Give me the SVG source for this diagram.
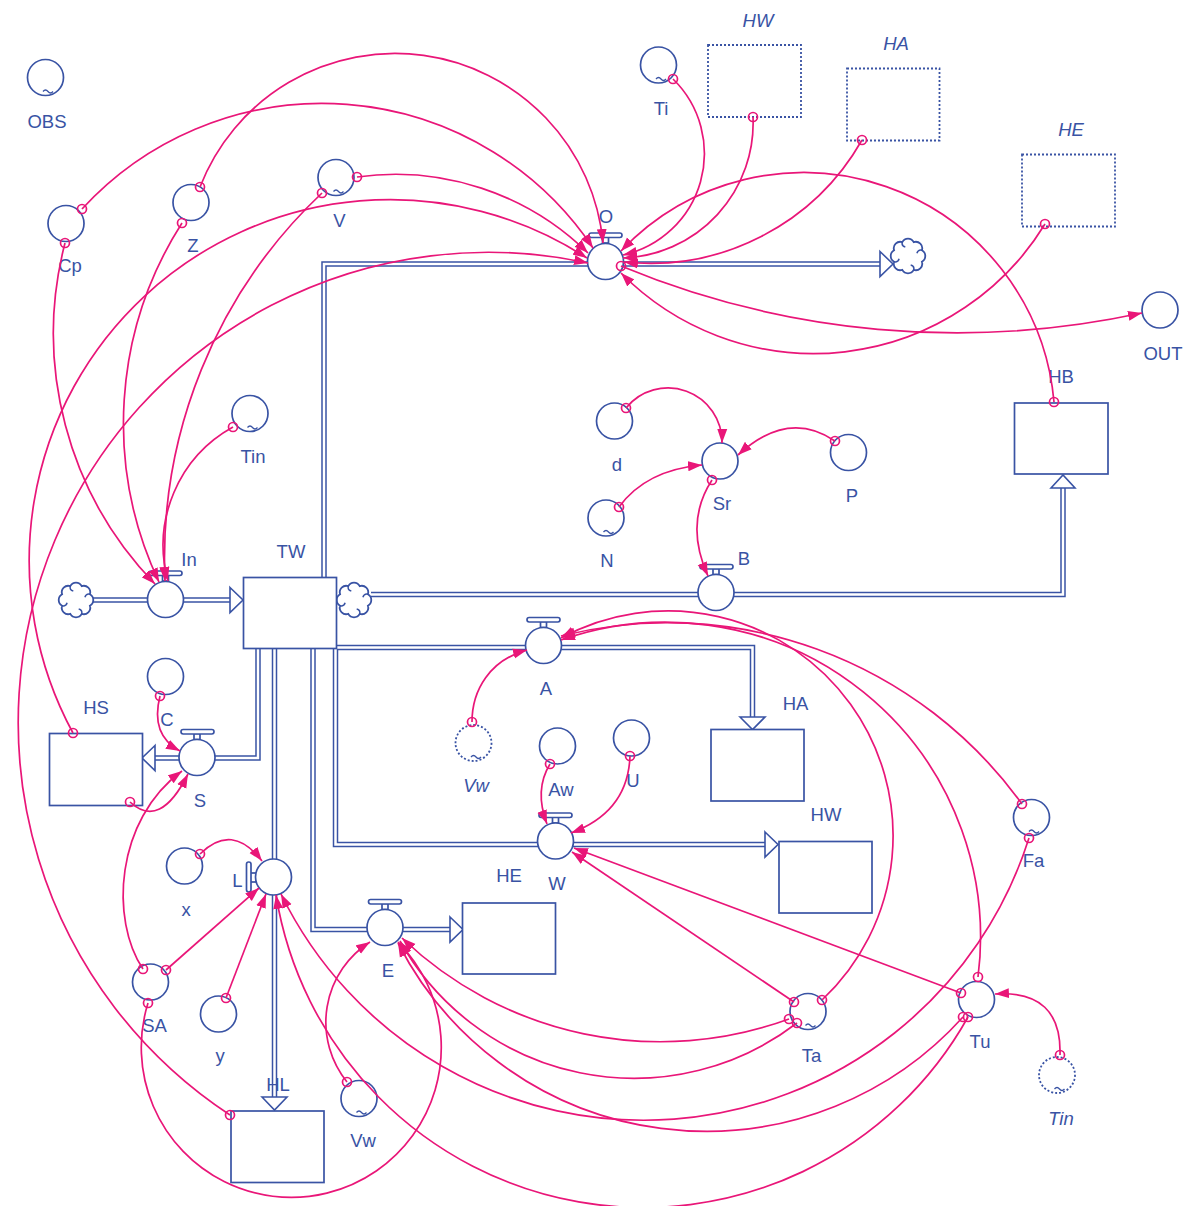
<svg xmlns="http://www.w3.org/2000/svg" width="1189" height="1206" viewBox="0 0 1189 1206">
<style>
.p{fill:none;stroke:#3953a4;stroke-width:5.5;stroke-linejoin:miter}
.pi{fill:none;stroke:#fff;stroke-width:2.5;stroke-linejoin:miter}
.ar{fill:#fff;stroke:#3953a4;stroke-width:1.6;stroke-linejoin:miter}
.n{fill:#fff;stroke:#3953a4;stroke-width:1.7}
.g{fill:none;stroke:#3953a4;stroke-width:1.8;stroke-dasharray:2 2}
.t{font-family:"Liberation Sans",Arial,sans-serif;font-size:18.5px;fill:#3953a4;text-anchor:middle}
.i{font-style:italic}
.c{fill:none;stroke:#e91678;stroke-width:1.7;marker-end:url(#ah)}
.m{fill:none;stroke:#e91678;stroke-width:1.7}
.tl{fill:none;stroke:#3953a4;stroke-width:1.3}
.cl{fill:#fff;stroke:#3953a4;stroke-width:1.8}
.cc{fill:none;stroke:#3953a4;stroke-width:1.5}
</style>
<defs>
<marker id="ah" markerUnits="userSpaceOnUse" markerWidth="15" markerHeight="11" refX="14" refY="5.5" orient="auto" viewBox="0 0 15 11"><path d="M0,0.5 L14,5.5 L0,10.5 z" fill="#e91678"/></marker>
<g id="cloud"><path class="cl" d="M13.9,-5.7 A6.5,6.5 0 0 1 13.9,5.7 A6.5,6.5 0 0 1 5.7,13.9 A6.5,6.5 0 0 1 -5.7,13.9 A6.5,6.5 0 0 1 -13.9,5.7 A6.5,6.5 0 0 1 -13.9,-5.7 A6.5,6.5 0 0 1 -5.7,-13.9 A6.5,6.5 0 0 1 5.7,-13.9 A6.5,6.5 0 0 1 13.9,-5.7 Z"/><path class="cc" d="M13.9,-5.7 q-4,-1 -5,3 M5.7,13.9 q1,-4 -3,-5 M-13.9,5.7 q4,1 5,-3 M-5.7,-13.9 q-1,4 3,5"/></g>
</defs>

<!-- flows -->
<g id="flow-O">
<path class="p" d="M324,578 V264 H880"/><path class="pi" d="M324,578 V264 H880"/>
<path class="ar" d="M880,251.5 L893,264 L880,276.5 Z"/>
<rect class="n" x="602.5" y="237" width="6" height="6"/><rect class="n" x="589" y="233" width="33" height="4.5" rx="2.2"/>
<circle class="n" cx="605.5" cy="261.5" r="18"/>
<text class="t" x="606" y="223">O</text>
</g>
<g id="flow-In">
<path class="p" d="M93,600 H230"/><path class="pi" d="M93,600 H230"/>
<path class="ar" d="M230,587.5 L243,600 L230,612.5 Z"/>
<rect class="n" x="162.5" y="575" width="6" height="6"/><rect class="n" x="149" y="571" width="33" height="4.5" rx="2.2"/>
<circle class="n" cx="165.5" cy="599.5" r="18"/>
<text class="t" x="189" y="566">In</text>
</g>
<g id="flow-B">
<path class="p" d="M371,594.5 H1063 V488"/><path class="pi" d="M371,594.5 H1063 V488"/>
<path class="ar" d="M1051,488 L1063,475 L1075,488 Z"/>
<rect class="n" x="713" y="568.5" width="6" height="6"/><rect class="n" x="700" y="564.5" width="33" height="4.5" rx="2.2"/>
<circle class="n" cx="716" cy="592.5" r="18"/>
<text class="t" x="744" y="565">B</text>
</g>
<g id="flow-A">
<path class="p" d="M336,647.5 H752.5 V717"/><path class="pi" d="M336,647.5 H752.5 V717"/>
<path class="ar" d="M740,717 L752.5,729.5 L765,717 Z"/>
<rect class="n" x="540.5" y="621.5" width="6" height="6"/><rect class="n" x="527" y="617.5" width="33" height="4.5" rx="2.2"/>
<circle class="n" cx="543.5" cy="645.5" r="18"/>
<text class="t" x="546" y="695">A</text>
</g>
<g id="flow-W">
<path class="p" d="M335.5,649 V844.5 H765"/><path class="pi" d="M335.5,649 V844.5 H765"/>
<path class="ar" d="M765,832 L778,844.5 L765,857 Z"/>
<rect class="n" x="552.5" y="817" width="6" height="6"/><rect class="n" x="539" y="813" width="33" height="4.5" rx="2.2"/>
<circle class="n" cx="555.5" cy="841" r="18"/>
<text class="t" x="557" y="890">W</text>
</g>
<g id="flow-E">
<path class="p" d="M313,649 V929.5 H450"/><path class="pi" d="M313,649 V929.5 H450"/>
<path class="ar" d="M450,917 L463,929.5 L450,942 Z"/>
<rect class="n" x="382" y="903.5" width="6" height="6"/><rect class="n" x="368.5" y="899.5" width="33" height="4.5" rx="2.2"/>
<circle class="n" cx="385" cy="927.5" r="18"/>
<text class="t" x="388" y="977">E</text>
</g>
<g id="flow-L">
<path class="p" d="M274.5,649 V1097"/><path class="pi" d="M274.5,649 V1097"/>
<path class="ar" d="M262,1097 L274.5,1110 L287,1097 Z"/>
<rect class="n" x="250" y="873" width="6" height="9"/><rect class="n" x="246.5" y="862" width="4.5" height="30" rx="2.2"/>
<circle class="n" cx="273.5" cy="877" r="18"/>
<text class="t" x="237.5" y="887">L</text>
</g>
<g id="flow-S">
<path class="p" d="M258,649 V758 H155"/><path class="pi" d="M258,649 V758 H155"/>
<path class="ar" d="M155,745.5 L142,758 L155,770.5 Z"/>
<rect class="n" x="194" y="733.5" width="6" height="6"/><rect class="n" x="181" y="729.5" width="33" height="4.5" rx="2.2"/>
<circle class="n" cx="197" cy="757.5" r="18"/>
<text class="t" x="200" y="807">S</text>
</g>

<!-- clouds -->
<g id="cloud-in"><use href="#cloud" x="76" y="600"/></g>
<g id="cloud-b"><use href="#cloud" x="354" y="600"/></g>
<g id="cloud-o"><use href="#cloud" x="908" y="256"/></g>

<!-- stocks -->
<g id="TW"><rect class="n" x="243.5" y="577.5" width="93" height="71"/><text class="t" x="291" y="558">TW</text></g>
<g id="HB"><rect class="n" x="1014.5" y="403" width="93.5" height="71"/><text class="t" x="1061" y="383">HB</text></g>
<g id="HA"><rect class="n" x="711" y="729.5" width="93" height="71.5"/><text class="t" x="795.5" y="710">HA</text></g>
<g id="HW"><rect class="n" x="779" y="841.5" width="93" height="71.5"/><text class="t" x="826" y="821">HW</text></g>
<g id="HE"><rect class="n" x="462.5" y="903" width="93" height="71"/><text class="t" x="509" y="882">HE</text></g>
<g id="HS"><rect class="n" x="49.5" y="733.5" width="93" height="72"/><text class="t" x="96" y="714">HS</text></g>
<g id="HL"><rect class="n" x="231" y="1111" width="93" height="71.5"/><text class="t" x="278" y="1091">HL</text></g>
<g id="HW-ghost"><rect class="g" x="708" y="45" width="93" height="72"/><text class="t i" x="758" y="27">HW</text></g>
<g id="HA-ghost"><rect class="g" x="847" y="68.5" width="92.5" height="72"/><text class="t i" x="896" y="50">HA</text></g>
<g id="HE-ghost"><rect class="g" x="1022" y="154.5" width="93" height="72"/><text class="t i" x="1071" y="136">HE</text></g>

<!-- converters -->
<g id="OBS"><circle class="n" cx="45.5" cy="77.5" r="18"/><path class="tl" d="M43,91.5 q2.5,-3 5,0 t5,0"/><text class="t" x="47" y="128">OBS</text></g>
<g id="Cp"><circle class="n" cx="66" cy="223.5" r="18"/><text class="t" x="70" y="272">Cp</text></g>
<g id="Z"><circle class="n" cx="191" cy="202.5" r="18"/><text class="t" x="193" y="252">Z</text></g>
<g id="V"><circle class="n" cx="336" cy="177.5" r="18"/><path class="tl" d="M333.5,191.5 q2.5,-3 5,0 t5,0"/><text class="t" x="339.5" y="227">V</text></g>
<g id="Ti"><circle class="n" cx="658.5" cy="65" r="18"/><path class="tl" d="M656,79 q2.5,-3 5,0 t5,0"/><text class="t" x="661" y="115">Ti</text></g>
<g id="OUT"><circle class="n" cx="1160" cy="310" r="18"/><text class="t" x="1163" y="360">OUT</text></g>
<g id="d"><circle class="n" cx="614.5" cy="421" r="18"/><text class="t" x="617" y="471">d</text></g>
<g id="Sr"><circle class="n" cx="720" cy="461" r="18"/><text class="t" x="722" y="510">Sr</text></g>
<g id="P"><circle class="n" cx="848.5" cy="452.5" r="18"/><text class="t" x="852" y="502">P</text></g>
<g id="N"><circle class="n" cx="606" cy="518" r="18"/><path class="tl" d="M603.5,532 q2.5,-3 5,0 t5,0"/><text class="t" x="607" y="567">N</text></g>
<g id="Tin"><circle class="n" cx="250" cy="413.5" r="18"/><path class="tl" d="M247.5,427.5 q2.5,-3 5,0 t5,0"/><text class="t" x="253" y="463">Tin</text></g>
<g id="C"><circle class="n" cx="165.5" cy="676.5" r="18"/><text class="t" x="167" y="726">C</text></g>
<g id="Vw-ghost"><circle class="g" cx="473.5" cy="743" r="18"/><path class="tl" d="M471,757 q2.5,-3 5,0 t5,0"/><text class="t i" x="476" y="792">Vw</text></g>
<g id="Aw"><circle class="n" cx="557.5" cy="746" r="18"/><text class="t" x="561" y="796">Aw</text></g>
<g id="U"><circle class="n" cx="631.5" cy="738" r="18"/><text class="t" x="633" y="787">U</text></g>
<g id="x"><circle class="n" cx="184.5" cy="866" r="18"/><text class="t" x="186" y="916">x</text></g>
<g id="SA"><circle class="n" cx="150.5" cy="982" r="18"/><text class="t" x="154.5" y="1032">SA</text></g>
<g id="y"><circle class="n" cx="218.5" cy="1014" r="18"/><text class="t" x="220" y="1062">y</text></g>
<g id="Vw"><circle class="n" cx="359" cy="1098.5" r="18"/><path class="tl" d="M356.5,1112.5 q2.5,-3 5,0 t5,0"/><text class="t" x="363" y="1147">Vw</text></g>
<g id="Ta"><circle class="n" cx="808" cy="1011.5" r="18"/><path class="tl" d="M805.5,1025.5 q2.5,-3 5,0 t5,0"/><text class="t" x="811.5" y="1062">Ta</text></g>
<g id="Tu"><circle class="n" cx="976.5" cy="999.5" r="18"/><text class="t" x="980" y="1048">Tu</text></g>
<g id="Tin-ghost"><circle class="g" cx="1057" cy="1075" r="18"/><path class="tl" d="M1054.5,1089 q2.5,-3 5,0 t5,0"/><text class="t i" x="1061" y="1125">Tin</text></g>
<g id="Fa"><circle class="n" cx="1031.5" cy="817.5" r="18"/><path class="tl" d="M1029,831.5 q2.5,-3 5,0 t5,0"/><text class="t" x="1033.5" y="867">Fa</text></g>

<!-- connectors -->
<g id="connectors">
<path class="c" d="M82,209 A326,326 0 0 1 593,248"/>
<path class="c" d="M65,243 A360,360 0 0 0 155,584"/>
<path class="c" d="M200,187 A209,209 0 0 1 603,243"/>
<path class="c" d="M182,223 A372,372 0 0 0 159,582"/>
<path class="c" d="M357,177 A275,275 0 0 1 588,253"/>
<path class="c" d="M322,193 A503,503 0 0 0 165,581"/>
<path class="c" d="M233,427 A135,135 0 0 0 168,581"/>
<path class="c" d="M73,733 A361,361 0 0 1 587,258"/>
<path class="c" d="M230,1115 A470,470 0 0 1 588,263"/>
<path class="c" d="M673,79 A104,104 0 0 1 623,255"/>
<path class="c" d="M753,117 A135,135 0 0 1 623,258"/>
<path class="c" d="M862,140 A244,244 0 0 1 624,262"/>
<path class="c" d="M1054,402 A251.5,251.5 0 0 0 621,251"/>
<path class="c" d="M1045,224 A271,271 0 0 1 621,273"/>
<path class="c" d="M621,266 A876,876 0 0 0 1142,313"/>
<path class="c" d="M626,408 A54,54 0 0 1 722,443"/>
<path class="c" d="M835,441 Q788,409 738,455"/>
<path class="c" d="M619,507 Q646,470 702,465"/>
<path class="c" d="M712,480 Q684,523 708,576"/>
<path class="c" d="M472,722 C472,690 490,660 527,650"/>
<path class="c" d="M822,1000 A225,225 0 0 0 561,638"/>
<path class="c" d="M978,977 A315,315 0 0 0 561,640"/>
<path class="c" d="M1022,804 A437,437 0 0 0 561,636"/>
<path class="c" d="M550,764 Q534,790 547,824"/>
<path class="c" d="M630,756 Q628,812 571,833"/>
<path class="c" d="M794,1002 L572,852"/>
<path class="c" d="M961,993 L574,848"/>
<path class="c" d="M347,1082 A95,95 0 0 1 370,942"/>
<path class="c" d="M148,1003 A150,150 0 1 0 398,942"/>
<path class="c" d="M789,1019 A374,374 0 0 1 402,938"/>
<path class="c" d="M797,1023 A268,268 0 0 1 400,941"/>
<path class="c" d="M963,1017 A346,346 0 0 1 398,943"/>
<path class="c" d="M1029,838 A404,404 0 0 1 281,894"/>
<path class="c" d="M968,1017 A372,372 0 0 1 276,895"/>
<path class="c" d="M166,970 L259,888"/>
<path class="c" d="M226,998 L266,894"/>
<path class="c" d="M200,854 Q232,822 262,861"/>
<path class="c" d="M143,969 C110,920 115,820 182,771"/>
<path class="c" d="M130,802 Q160,830 188,774"/>
<path class="c" d="M160,696 Q150,735 180,751"/>
<path class="c" d="M1060,1055 Q1062,990 995,994"/>
<g class="m">
<circle cx="82" cy="209" r="4.5"/><circle cx="65" cy="243" r="4.5"/><circle cx="200" cy="187" r="4.5"/><circle cx="182" cy="223" r="4.5"/>
<circle cx="357" cy="177" r="4.5"/><circle cx="322" cy="193" r="4.5"/><circle cx="233" cy="427" r="4.5"/><circle cx="73" cy="733" r="4.5"/>
<circle cx="230" cy="1115" r="4.5"/><circle cx="673" cy="79" r="4.5"/><circle cx="753" cy="117" r="4.5"/><circle cx="862" cy="140" r="4.5"/>
<circle cx="1054" cy="402" r="4.5"/><circle cx="1045" cy="224" r="4.5"/><circle cx="621" cy="266" r="4.5"/><circle cx="626" cy="408" r="4.5"/>
<circle cx="835" cy="441" r="4.5"/><circle cx="619" cy="507" r="4.5"/><circle cx="712" cy="480" r="4.5"/><circle cx="472" cy="722" r="4.5"/>
<circle cx="822" cy="1000" r="4.5"/><circle cx="978" cy="977" r="4.5"/><circle cx="1022" cy="804" r="4.5"/><circle cx="550" cy="764" r="4.5"/>
<circle cx="630" cy="756" r="4.5"/><circle cx="794" cy="1002" r="4.5"/><circle cx="961" cy="993" r="4.5"/><circle cx="347" cy="1082" r="4.5"/>
<circle cx="148" cy="1003" r="4.5"/><circle cx="789" cy="1019" r="4.5"/><circle cx="797" cy="1023" r="4.5"/><circle cx="963" cy="1017" r="4.5"/>
<circle cx="1029" cy="838" r="4.5"/><circle cx="968" cy="1017" r="4.5"/><circle cx="166" cy="970" r="4.5"/><circle cx="226" cy="998" r="4.5"/>
<circle cx="200" cy="854" r="4.5"/><circle cx="143" cy="969" r="4.5"/><circle cx="130" cy="802" r="4.5"/><circle cx="160" cy="696" r="4.5"/>
<circle cx="1060" cy="1055" r="4.5"/>
</g>
</g>
</svg>
